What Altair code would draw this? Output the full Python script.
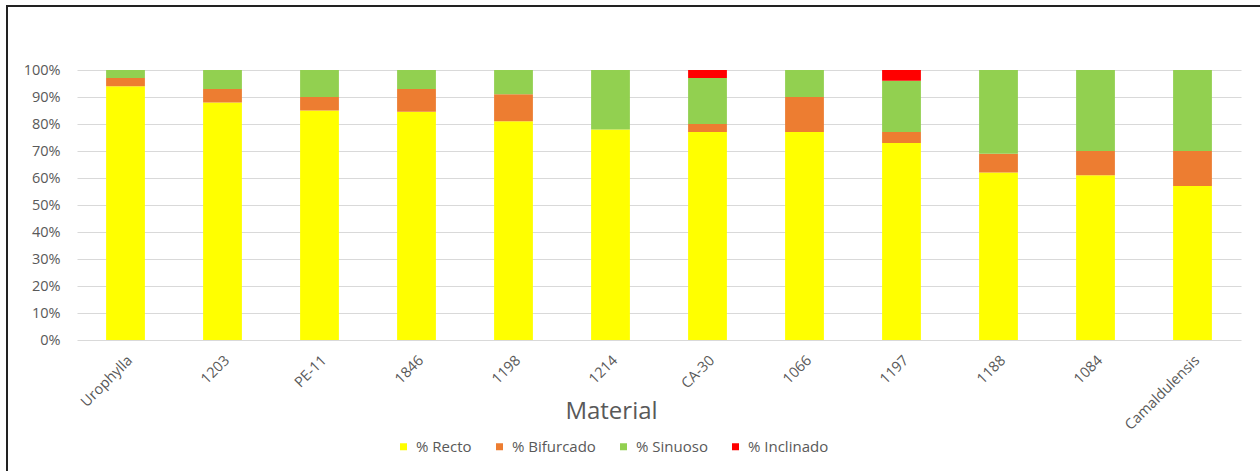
import altair as alt
import pandas as pd

categories = ["Urophylla", "1203", "PE-11", "1846", "1198", "1214", "CA-30",
              "1066", "1197", "1188", "1084", "Camaldulensis"]
series = ["% Recto", "% Bifurcado", "% Sinuoso", "% Inclinado"]
colors = ["#FFFF00", "#ED7D31", "#92D050", "#FF0000"]

recto = [94, 88, 85, 84.5, 81, 78, 77, 77, 73, 62, 61, 57]
bifurcado = [3, 5, 5, 8.5, 10, 0, 3, 13, 4, 7, 9, 13]
sinuoso = [3, 7, 10, 7, 9, 22, 17, 10, 19, 31, 30, 30]
inclinado = [0, 0, 0, 0, 0, 0, 3, 0, 4, 0, 0, 0]

y_ticks = [0, 0.1, 0.2, 0.3, 0.4, 0.5, 0.6, 0.7, 0.8, 0.9, 1.0]

rows = []
for i, cat in enumerate(categories):
    for k, vals in enumerate([recto, bifurcado, sinuoso, inclinado]):
        rows.append({"Material": cat, "Serie": series[k], "orden": k,
                     "valor": vals[i] / 100.0})
df = pd.DataFrame(rows)

FONT = "Open Sans"
GRAY = "#595959"

bars = alt.Chart(df).mark_bar().encode(
    x=alt.X("Material:N", sort=categories,
            scale=alt.Scale(paddingInner=0.6, paddingOuter=0.3),
            axis=alt.Axis(title="Material", labelAngle=-45, labelAlign="right",
                          labelBaseline="top", labelPadding=13, labelFontSize=14.5,
                          labelColor=GRAY, labelFont=FONT, domain=False, ticks=False,
                          titleFont=FONT, titleFontSize=24, titleFontWeight="normal",
                          titleColor=GRAY, titleX=534, titleY=78,
                          titleAlign="center", titleBaseline="alphabetic")),
    y=alt.Y("valor:Q", stack="zero",
            scale=alt.Scale(domain=[0, 1], nice=False),
            axis=alt.Axis(title=None, values=y_ticks, format=".0%",
                          labelFontSize=14.5, labelColor=GRAY, labelFont=FONT,
                          labelPadding=17, ticks=False, tickSize=0, domain=False,
                          grid=True, gridColor="#d9d9d9", gridWidth=1)),
    color=alt.Color("Serie:N",
                    scale=alt.Scale(domain=series, range=colors),
                    legend=alt.Legend(title=None, orient="none", direction="horizontal",
                                      legendX=319, legendY=369, symbolType="square",
                                      symbolSize=49, symbolStrokeWidth=0,
                                      labelFontSize=15, labelColor=GRAY, labelFont=FONT,
                                      labelOffset=5, columnPadding=20, padding=0)),
    order=alt.Order("orden:Q", sort="ascending"),
)

frame = alt.Chart(pd.DataFrame({"f": [0]})).mark_rect(
    filled=False, stroke="#222222", strokeWidth=2
).encode(
    x=alt.value(-70), x2=alt.value(1200),
    y=alt.value(-64), y2=alt.value(420),
)

chart = alt.layer(bars, frame).properties(
    width=1164, height=270,
    autosize=alt.AutoSizeParams(type="none"),
    padding={"left": 77, "top": 70, "right": 19, "bottom": 131},
    background="white",
).configure_view(strokeWidth=0)

chart.save("out.html", embed_options={"renderer": "svg", "actions": False})
